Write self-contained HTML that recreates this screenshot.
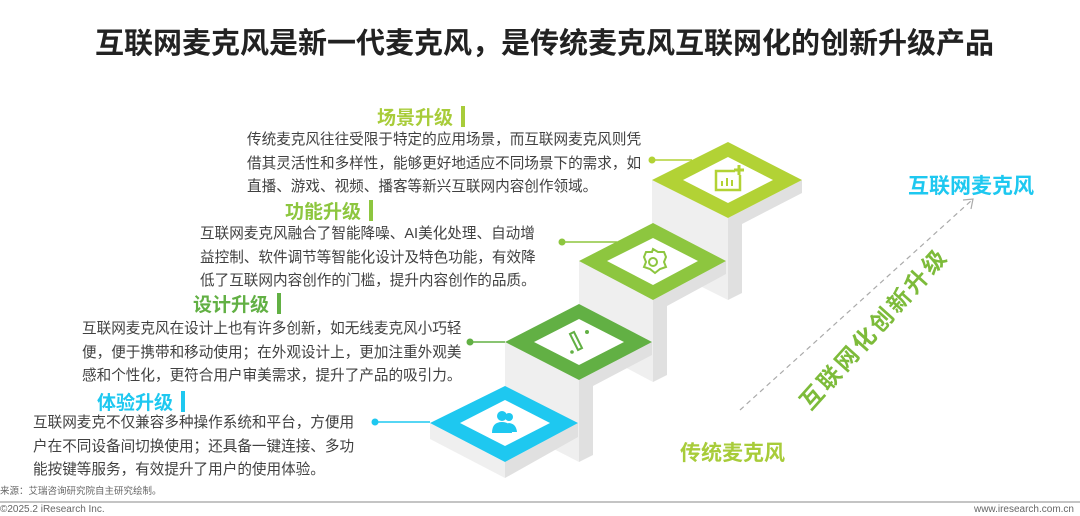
<!DOCTYPE html>
<html><head><meta charset="utf-8">
<style>
html,body{margin:0;padding:0;background:#fff;}
body{width:1080px;height:516px;overflow:hidden;position:relative;font-family:"Liberation Sans","Noto Sans CJK SC",sans-serif;}
.t{position:absolute;white-space:nowrap;}
.p{position:absolute;white-space:nowrap;font-size:14.6px;line-height:23.5px;color:#404040;}
.h{position:absolute;white-space:nowrap;font-size:19px;font-weight:bold;line-height:22px;}
.bar{display:inline-block;width:4px;height:21px;margin-left:8px;vertical-align:-3px;}
</style></head><body>
<div class="t" style="left:95px;top:20px;font-size:29px;font-weight:bold;color:#222;">互联网麦克风是新一代麦克风，是传统麦克风互联网化的创新升级产品</div>

<svg width="1080" height="516" style="position:absolute;left:0;top:0">
 <!-- step 4 -->
 <polygon points="652,180 728,218 728,300 652,262" fill="#efefef"/>
 <polygon points="728,218 802,180 802,193 742,224 742,293 728,300" fill="#e0e0e0"/>
 <polygon points="728,142 802,180 728,218 652,180" fill="#b2d235"/>
 <polygon points="728,157 773,180 728,203 683,180" fill="#fff"/>
 <!-- step 3 -->
 <polygon points="579,261 653,300 653,382 579,343" fill="#efefef"/>
 <polygon points="653,300 726,261 726,274 667,306 667,375 653,382" fill="#e0e0e0"/>
 <polygon points="653,223 726,261 653,300 579,261" fill="#8dc63f"/>
 <polygon points="653,238 698,261 653,285 607,261" fill="#fff"/>
 <!-- step 2 -->
 <polygon points="505,342 579,380 579,462 505,424" fill="#efefef"/>
 <polygon points="579,380 652,342 652,355 593,386 593,455 579,462" fill="#e0e0e0"/>
 <polygon points="579,304 652,342 579,380 505,342" fill="#62b044"/>
 <polygon points="579,319 624,342 579,365 534,342" fill="#fff"/>
 <!-- step 1 -->
 <polygon points="430,423 505,462 505,478 430,439" fill="#efefef"/>
 <polygon points="505,462 578,423 578,437 505,478" fill="#e0e0e0"/>
 <polygon points="505,386 578,423 505,462 430,423" fill="#1ec8f0"/>
 <polygon points="505,400 550,423 505,446 460,423" fill="#fff"/>
 <!-- icons -->
 <g fill="none" stroke="#b2d235" stroke-width="2.5">
  <rect x="716" y="171" width="24" height="19"/>
 </g>
 <rect x="735" y="166" width="9" height="9" fill="#fff"/>
 <path d="M739 165v10M734 170h10" stroke="#b2d235" stroke-width="3"/>
 <path d="M722 186v-5M727 186v-8M732 186v-6" stroke="#b2d235" stroke-width="2"/>
 <g fill="none" stroke="#8dc63f" stroke-width="2">
  <path d="M653 249 l5 3 6 0 2 5 -2 5 2 5 -6 2 -5 4 -5 -4 -6 -2 2 -5 -2 -5 2 -5 6 0z"/>
  <circle cx="653" cy="262" r="4"/>
 </g>
 <g stroke="#62b044" stroke-width="2" fill="none">
  <path d="M570 334 l8 16 4 -2 -8 -16z"/>
 </g>
 <circle cx="587" cy="332" r="2" fill="#62b044"/><circle cx="572" cy="352" r="1.8" fill="#62b044"/>
 <g fill="#1ec8f0">
  <circle cx="502" cy="416" r="5"/><path d="M492 433 q0-11 10-11 q10 0 10 11z"/>
  <circle cx="509" cy="417" r="4"/><path d="M508 423 q8 0 9 9 l-5 0z"/>
 </g>
 <!-- connectors -->
 <line x1="652" y1="160" x2="692" y2="160" stroke="#b2d235" stroke-width="1.5"/><circle cx="652" cy="160" r="3.5" fill="#b2d235"/>
 <line x1="562" y1="242" x2="617" y2="242" stroke="#8dc63f" stroke-width="1.5"/><circle cx="562" cy="242" r="3.5" fill="#8dc63f"/>
 <line x1="470" y1="342" x2="505" y2="342" stroke="#62b044" stroke-width="1.5"/><circle cx="470" cy="342" r="3.5" fill="#62b044"/>
 <line x1="375" y1="422" x2="430" y2="422" stroke="#1ec8f0" stroke-width="1.5"/><circle cx="375" cy="422" r="3.5" fill="#1ec8f0"/>
 <!-- arrow -->
 <line x1="740" y1="410" x2="972" y2="200" stroke="#aaa" stroke-width="1.2" stroke-dasharray="5,4"/>
 <path d="M963 200 L973 199 L971 209" fill="none" stroke="#aaa" stroke-width="1.2"/>
 <text x="880" y="334" transform="rotate(-48 880 334)" text-anchor="middle" font-family="Liberation Sans,Noto Sans CJK SC,sans-serif" font-size="23" font-weight="bold" fill="#7dbb3a" letter-spacing="3">互联网化创新升级</text>
 <line x1="0" y1="502" x2="1080" y2="502" stroke="#888" stroke-width="1"/>
</svg>

<div class="h" style="left:377px;top:106px;color:#a8cc3a;">场景升级<span class="bar" style="background:#a8cc3a"></span></div>
<div class="p" style="left:247px;top:129px;">传统麦克风往往受限于特定的应用场景，而互联网麦克风则凭<br>借其灵活性和多样性，能够更好地适应不同场景下的需求，如<br>直播、游戏、视频、播客等新兴互联网内容创作领域。</div>

<div class="h" style="left:285px;top:200px;color:#8dc63f;">功能升级<span class="bar" style="background:#8dc63f"></span></div>
<div class="p" style="left:200px;top:223px;">互联网麦克风融合了智能降噪、AI美化处理、自动增<br>益控制、软件调节等智能化设计及特色功能，有效降<br>低了互联网内容创作的门槛，提升内容创作的品质。</div>

<div class="h" style="left:193px;top:293px;color:#62b044;">设计升级<span class="bar" style="background:#62b044"></span></div>
<div class="p" style="left:82px;top:318px;">互联网麦克风在设计上也有许多创新，如无线麦克风小巧轻<br>便，便于携带和移动使用；在外观设计上，更加注重外观美<br>感和个性化，更符合用户审美需求，提升了产品的吸引力。</div>

<div class="h" style="left:97px;top:391px;color:#1ec8f0;">体验升级<span class="bar" style="background:#1ec8f0"></span></div>
<div class="p" style="left:33px;top:412px;">互联网麦克不仅兼容多种操作系统和平台，方便用<br>户在不同设备间切换使用；还具备一键连接、多功<br>能按键等服务，有效提升了用户的使用体验。</div>

<div class="t" style="left:908px;top:170px;font-size:21px;font-weight:bold;color:#1ec8f0;">互联网麦克风</div>
<div class="t" style="left:680px;top:437px;font-size:21px;font-weight:bold;color:#a8cc3a;">传统麦克风</div>

<div class="t" style="left:0px;top:483px;font-size:9.5px;color:#666;">来源：艾瑞咨询研究院自主研究绘制。</div>
<div class="t" style="left:0px;top:504px;font-size:10px;color:#666;">©2025.2 iResearch Inc.</div>
<div class="t" style="right:6px;top:504px;font-size:10px;color:#666;">www.iresearch.com.cn</div>
</body></html>
